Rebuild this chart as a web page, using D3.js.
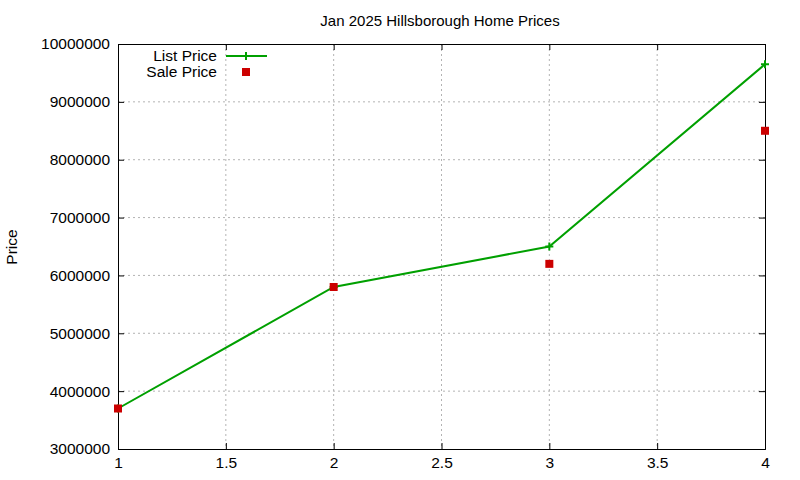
<!DOCTYPE html>
<html><head><meta charset="utf-8">
<script src="https://cdn.jsdelivr.net/npm/d3@7"></script>
<style>body{margin:0;background:#fff}text{font-family:"Liberation Sans",Arial,sans-serif}</style>
</head><body><svg id="c" width="800" height="480"></svg>
<script>
const xs = [1, 2, 3, 4];
const listPrice = [3700000, 5800000, 6500000, 9650000];
const salePrice = [3700000, 5800000, 6200000, 8500000];
const xTicks = [1, 1.5, 2, 2.5, 3, 3.5, 4];
const yTicks = [3000000,4000000,5000000,6000000,7000000,8000000,9000000,10000000];

const svg = d3.select("#c");
const L=118,R=765,T=44,B=449;
const x = d3.scaleLinear().domain([1,4]).range([L,R]);
const y = d3.scaleLinear().domain([3000000,10000000]).range([B,T]);

svg.append("g").selectAll("line").data(xTicks.slice(1,-1)).join("line")
 .attr("x1",d=>x(d)).attr("x2",d=>x(d)).attr("y1",T).attr("y2",B)
 .attr("stroke","#a0a0a0").attr("stroke-dasharray","2,3").attr("stroke-width",0.8);
svg.append("g").selectAll("line").data(yTicks.slice(1,-1)).join("line")
 .attr("x1",L).attr("x2",R).attr("y1",d=>y(d)).attr("y2",d=>y(d))
 .attr("stroke","#a0a0a0").attr("stroke-dasharray","2,3").attr("stroke-width",0.8);

svg.append("g").attr("transform",`translate(0,${B})`)
 .call(d3.axisBottom(x).tickValues(xTicks).tickSize(-6).tickPadding(8).tickFormat(d3.format("")));
svg.append("g").attr("transform",`translate(${L},0)`)
 .call(d3.axisLeft(y).tickValues(yTicks).tickSize(-6).tickPadding(8).tickFormat(d3.format("d")));
svg.append("g").attr("transform",`translate(0,${T})`).call(d3.axisTop(x).tickValues(xTicks).tickSize(-6).tickFormat(""));
svg.append("g").attr("transform",`translate(${R},0)`).call(d3.axisRight(y).tickValues(yTicks).tickSize(-6).tickFormat(""));
svg.selectAll(".domain").attr("stroke","#000");
svg.selectAll(".tick text").attr("font-size",15.5).attr("fill","#000").attr("font-family","Liberation Sans, Arial, sans-serif");

svg.append("text").attr("x",440).attr("y",26).attr("text-anchor","middle").attr("font-size",15).text("Jan 2025 Hillsborough Home Prices");
svg.append("text").attr("transform","translate(17,247) rotate(-90)").attr("text-anchor","middle").attr("font-size",15.5).text("Price");

const line = d3.line().x((d,i)=>x(xs[i])).y(d=>y(d));
svg.append("path").datum(listPrice).attr("d",line).attr("fill","none").attr("stroke","#00a000").attr("stroke-width",2);
const plus = (g,cx,cy)=>{g.append("path").attr("d",`M${cx-4},${cy}H${cx+4}M${cx},${cy-4}V${cy+4}`).attr("stroke","#00a000").attr("stroke-width",2);};
listPrice.forEach((d,i)=>plus(svg,x(xs[i]),y(d)));
svg.append("g").selectAll("rect").data(salePrice).join("rect")
 .attr("x",(d,i)=>x(xs[i])-4).attr("y",d=>y(d)-4).attr("width",8).attr("height",8).attr("fill","#cc0000");

svg.append("text").attr("x",217).attr("y",61).attr("text-anchor","end").attr("font-size",15.5).text("List Price");
svg.append("line").attr("x1",226).attr("x2",267).attr("y1",56).attr("y2",56).attr("stroke","#00a000").attr("stroke-width",2);
plus(svg,246,56);
svg.append("text").attr("x",217).attr("y",77).attr("text-anchor","end").attr("font-size",15.5).text("Sale Price");
svg.append("rect").attr("x",242).attr("y",68).attr("width",8).attr("height",8).attr("fill","#cc0000");
</script></body></html>
